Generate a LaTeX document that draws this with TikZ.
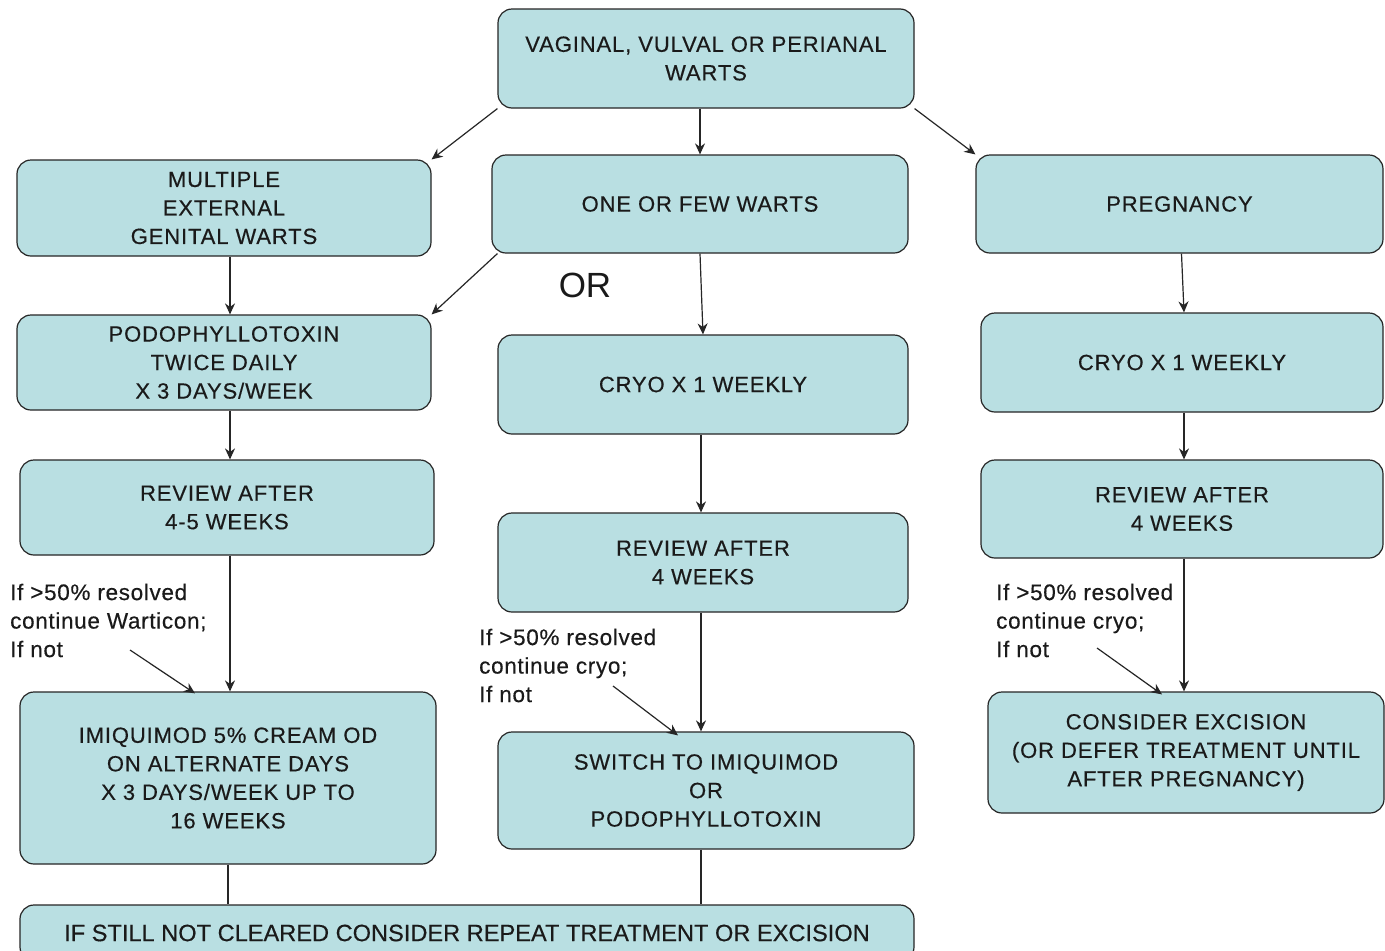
\documentclass[tikz,border=0pt]{standalone}
\usepackage{fontspec}
\setmainfont{Liberation Sans}
\usetikzlibrary{arrows.meta}
\definecolor{boxc}{HTML}{B9DFE2}
\definecolor{txtc}{HTML}{1A1A1A}
\begin{document}
\begin{tikzpicture}[x=1pt,y=-1pt,
  box/.style={draw=black!85, fill=boxc, rounded corners=14pt, line width=1.2pt,
    align=center, inner sep=0pt, text=txtc,
    font=\fontsize{22}{28.5}\selectfont\addfontfeatures{LetterSpace=4,FakeBold=0.4}},
  note/.style={anchor=west, align=left, inner sep=0pt, text=txtc,
    font=\fontsize{22.5}{28.5}\selectfont\addfontfeatures{LetterSpace=3,FakeBold=0.4}},
  arr/.style={-{Stealth[length=11pt,width=10pt]}, line width=1.2pt, draw=black!85},
  ln/.style={line width=1.2pt, draw=black!85}]
\useasboundingbox (0,0) rectangle (1385,951);
\clip (0,0) rectangle (1385,951);
\fill[white] (0,0) rectangle (1385,951);
% boxes
\node[box, minimum width=416pt, minimum height=99pt] (top) at (706,58.5) {VAGINAL, VULVAL OR PERIANAL\\WARTS};
\node[box, minimum width=414pt, minimum height=96pt] (multi) at (224,208) {MULTIPLE\\EXTERNAL\\GENITAL WARTS};
\node[box, minimum width=416pt, minimum height=98pt] (one) at (700,204) {ONE OR FEW WARTS};
\node[box, minimum width=407pt, minimum height=98pt] (preg) at (1179.5,204) {PREGNANCY};
\node[box, minimum width=414pt, minimum height=95pt] (podo) at (224,362.5) {PODOPHYLLOTOXIN\\TWICE DAILY\\X 3 DAYS/WEEK};
\node[box, minimum width=410pt, minimum height=99pt] (cryoM) at (703,384.5) {CRYO X 1 WEEKLY};
\node[box, minimum width=402pt, minimum height=99pt] (cryoR) at (1182,362.5) {CRYO X 1 WEEKLY};
\node[box, minimum width=414pt, minimum height=95pt] (revL) at (227,507.5) {REVIEW AFTER\\4-5 WEEKS};
\node[box, minimum width=410pt, minimum height=99pt] (revM) at (703,562.5) {REVIEW AFTER\\4 WEEKS};
\node[box, minimum width=402pt, minimum height=98pt] (revR) at (1182,509) {REVIEW AFTER\\4 WEEKS};
\node[box, minimum width=416pt, minimum height=172pt] (imi) at (228,778) {IMIQUIMOD 5\% CREAM OD\\ON ALTERNATE DAYS\\X 3 DAYS/WEEK UP TO\\16 WEEKS};
\node[box, minimum width=416pt, minimum height=117pt] (sw) at (706,790.5) {SWITCH TO IMIQUIMOD\\OR\\PODOPHYLLOTOXIN};
\node[box, minimum width=396pt, minimum height=121pt] (exc) at (1186,752.5) {CONSIDER EXCISION\\(OR DEFER TREATMENT UNTIL\\AFTER PREGNANCY)};
\node[box, minimum width=894pt, minimum height=56pt, font=\fontsize{23.6}{28}\selectfont\addfontfeatures{FakeBold=0.4}] (bot) at (467,933) {IF STILL NOT CLEARED CONSIDER REPEAT TREATMENT OR EXCISION};
% labels
\node[inner sep=0pt, text=txtc, font=\fontsize{35}{38}\selectfont] (or) at (585,285) {OR};
\node[note] (noteL) at (10,620.5) {If >50\% resolved\\continue Warticon;\\If not};
\node[note] (noteM) at (479,665.5) {If >50\% resolved\\continue cryo;\\If not};
\node[note] (noteR) at (996,620.5) {If >50\% resolved\\continue cryo;\\If not};
\coordinate (nL) at (130,650);
\coordinate (nM) at (613,686);
\coordinate (nR) at (1097,648);
% connectors
\draw[arr] (top.south west) -- (multi.north east);
\draw[arr] (top.south -| one.north) -- (one.north);
\draw[arr] (top.south east) -- (preg.north west);
\draw[arr] ([xshift=6pt]one.south west) -- (podo.north east);
\draw[arr] (one.south) -- (cryoM.north);
\draw[arr] ([xshift=6pt]multi.south) -- ([xshift=6pt]podo.north);
\draw[arr] ([xshift=6pt]podo.south) -- ([xshift=3pt]revL.north);
\draw[arr] ([xshift=3pt]revL.south) -- ([xshift=2pt]imi.north);
\draw[arr] ([xshift=-2pt]cryoM.south) -- ([xshift=-2pt]revM.north);
\draw[arr] ([xshift=-2pt]revM.south) -- ([xshift=-5pt]sw.north);
\draw[arr] ([xshift=2pt]preg.south) -- ([xshift=2pt]cryoR.north);
\draw[arr] ([xshift=2pt]cryoR.south) -- ([xshift=2pt]revR.north);
\draw[arr] ([xshift=2pt]revR.south) -- ([xshift=-2pt]exc.north);
\draw[arr] (nL) -- ([xshift=-33pt,yshift=-2pt]imi.north);
\draw[arr] (nM) -- ([xshift=-28pt,yshift=-4pt]sw.north);
\draw[arr] (nR) -- ([xshift=-24pt,yshift=-3pt]exc.north);
\draw[ln] (imi.south) -- (imi.south |- bot.north);
\draw[ln] ([xshift=-5pt]sw.south) -- ([xshift=-5pt]sw.south |- bot.north);
\end{tikzpicture}
\end{document}
